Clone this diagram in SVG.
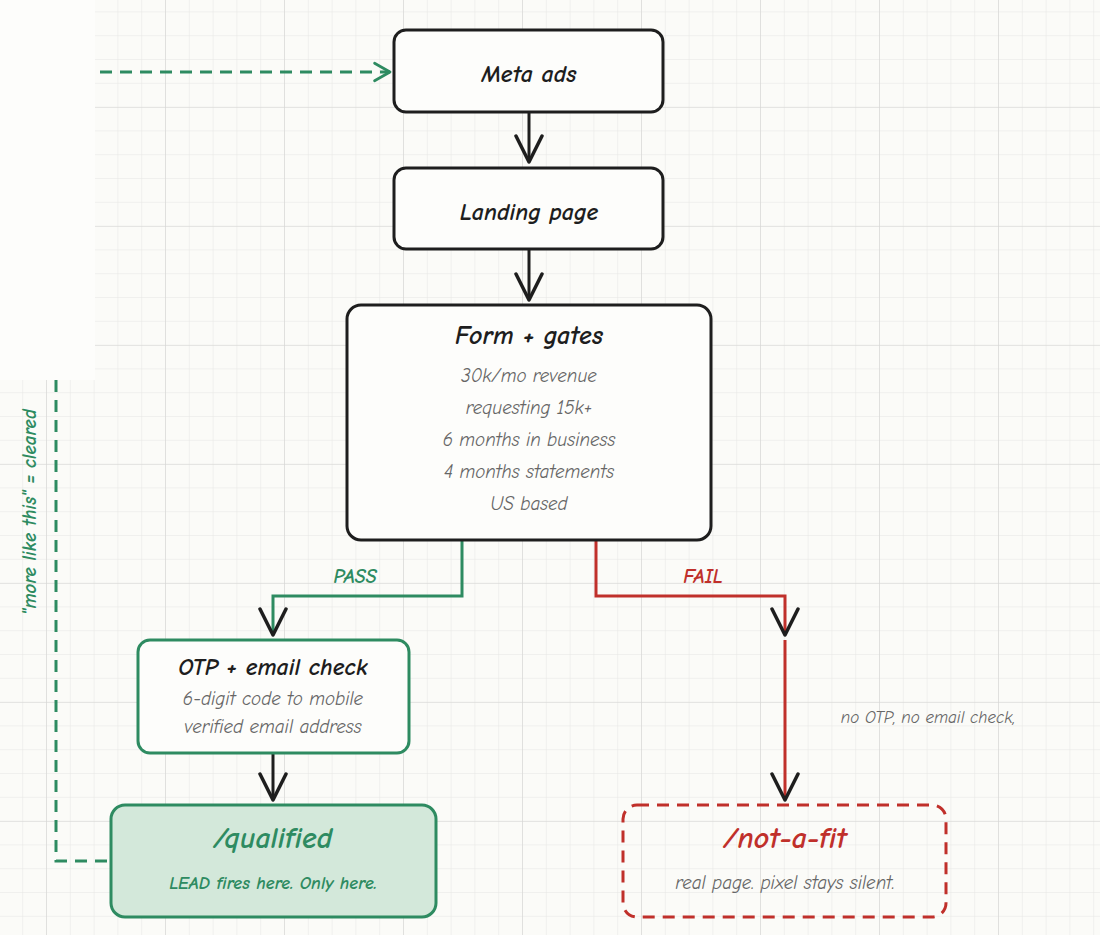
<svg xmlns="http://www.w3.org/2000/svg" width="1100" height="935" viewBox="0 0 1100 935">
<defs>
<pattern id="minor" width="23.8" height="23.8" patternUnits="userSpaceOnUse" x="22.2" y="11.4"><path d="M0 0H23.8M0 0V23.8" fill="none" stroke="#e6e6e3" stroke-width="1"/></pattern>
<pattern id="major" width="119" height="119" patternUnits="userSpaceOnUse" x="46" y="107"><path d="M0 0H119M0 0V119" fill="none" stroke="#d6d6d3" stroke-width="1.2"/></pattern>
<marker id="ah" viewBox="0 0 30 30" refX="28" refY="15" markerWidth="30" markerHeight="30" markerUnits="userSpaceOnUse" orient="auto"><path d="M2 2L28 15L2 28" fill="none" stroke="#1e1e1e" stroke-width="3.5" stroke-linecap="round" stroke-linejoin="round"/></marker>
<marker id="ahg" viewBox="0 0 20 20" refX="18" refY="10" markerWidth="22" markerHeight="22" markerUnits="userSpaceOnUse" orient="auto"><path d="M4 2L18 10L4 18" fill="none" stroke="#2e8b61" stroke-width="2.5" stroke-linecap="round" stroke-linejoin="round"/></marker>
</defs>
<style>
text{font-family:"Comic Neue","Liberation Sans",sans-serif;font-style:italic;text-anchor:middle}
.box{fill:#fdfdfb;stroke:#1e1e1e;stroke-width:3}
.t{font-size:24px;fill:#1e1e1e;font-weight:bold}
.s{font-size:19px;fill:#666}
.v{stroke:#1e1e1e;stroke-width:3;fill:none}
</style>
<rect width="1100" height="935" fill="#fbfbf8"/>
<rect width="1100" height="935" fill="url(#minor)"/>
<rect width="1100" height="935" fill="url(#major)"/>
<rect x="0" y="0" width="95" height="380" fill="#fdfdfb"/>
<g id="connectors">
<path d="M100 72H390" stroke="#2e8b61" stroke-width="3" stroke-dasharray="12 8" fill="none" marker-end="url(#ahg)"/>
<path class="v" d="M529 112V162" marker-end="url(#ah)"/>
<path class="v" d="M529 249V300" marker-end="url(#ah)"/>
<path d="M462 540V596H273V635" stroke="#2e8b61" stroke-width="3" fill="none" marker-end="url(#ah)"/>
<path d="M596 540V596H785V635" stroke="#c0302b" stroke-width="3" fill="none" marker-end="url(#ah)"/>
<path d="M785 640V800" stroke="#c0302b" stroke-width="3" fill="none" marker-end="url(#ah)"/>
<path class="v" d="M273 753V800" marker-end="url(#ah)"/>
<path d="M56 380V861H111" stroke="#2e8b61" stroke-width="3" stroke-dasharray="12 8" fill="none"/>
<text x="355" y="583" style="font-size:20px;fill:#2e8b61;font-weight:bold">PASS</text>
<text x="703" y="583" style="font-size:20px;fill:#c0302b;font-weight:bold">FAIL</text>
<text x="928" y="723" class="s" style="font-size:17px">no OTP, no email check,</text>
<text transform="translate(36 512) rotate(-90)" style="font-size:19px;fill:#2e8b61;font-weight:bold">"more like this" = cleared</text>
</g>
<g id="meta"><rect class="box" x="394" y="30" width="269" height="82" rx="12"/><text class="t" x="529" y="82">Meta ads</text></g>
<g id="landing"><rect class="box" x="394" y="168" width="269" height="81" rx="12"/><text class="t" x="529" y="220">Landing page</text></g>
<g id="form"><rect class="box" x="347" y="305" width="364" height="235" rx="14"/><text class="t" x="529" y="344" style="font-size:26px">Form + gates</text>
<text class="s" x="529" y="382">30k/mo revenue</text><text class="s" x="529" y="414">requesting 15k+</text><text class="s" x="529" y="446">6 months in business</text><text class="s" x="529" y="478">4 months statements</text><text class="s" x="529" y="510">US based</text></g>
<g id="otp"><rect x="138" y="640" width="271" height="113" rx="12" fill="#fdfdfb" stroke="#2e8b61" stroke-width="3"/><text class="t" x="273" y="675">OTP + email check</text><text class="s" x="273" y="705">6-digit code to mobile</text><text class="s" x="273" y="733">verified email address</text></g>
<g id="qualified"><rect x="111" y="805" width="325" height="112" rx="14" fill="#d3e8da" stroke="#2e8b61" stroke-width="3"/><text x="273" y="848" style="font-size:30px;fill:#2e8b61;font-weight:bold">/qualified</text><text x="273" y="889" style="font-size:18px;fill:#2e8b61;font-weight:bold">LEAD fires here. Only here.</text></g>
<g id="notfit"><rect x="623" y="805" width="323" height="112" rx="14" fill="none" stroke="#c0302b" stroke-width="3" stroke-dasharray="12 8"/><text x="785" y="848" style="font-size:30px;fill:#c0302b;font-weight:bold">/not-a-fit</text><text class="s" x="785" y="889">real page. pixel stays silent.</text></g>
</svg>
